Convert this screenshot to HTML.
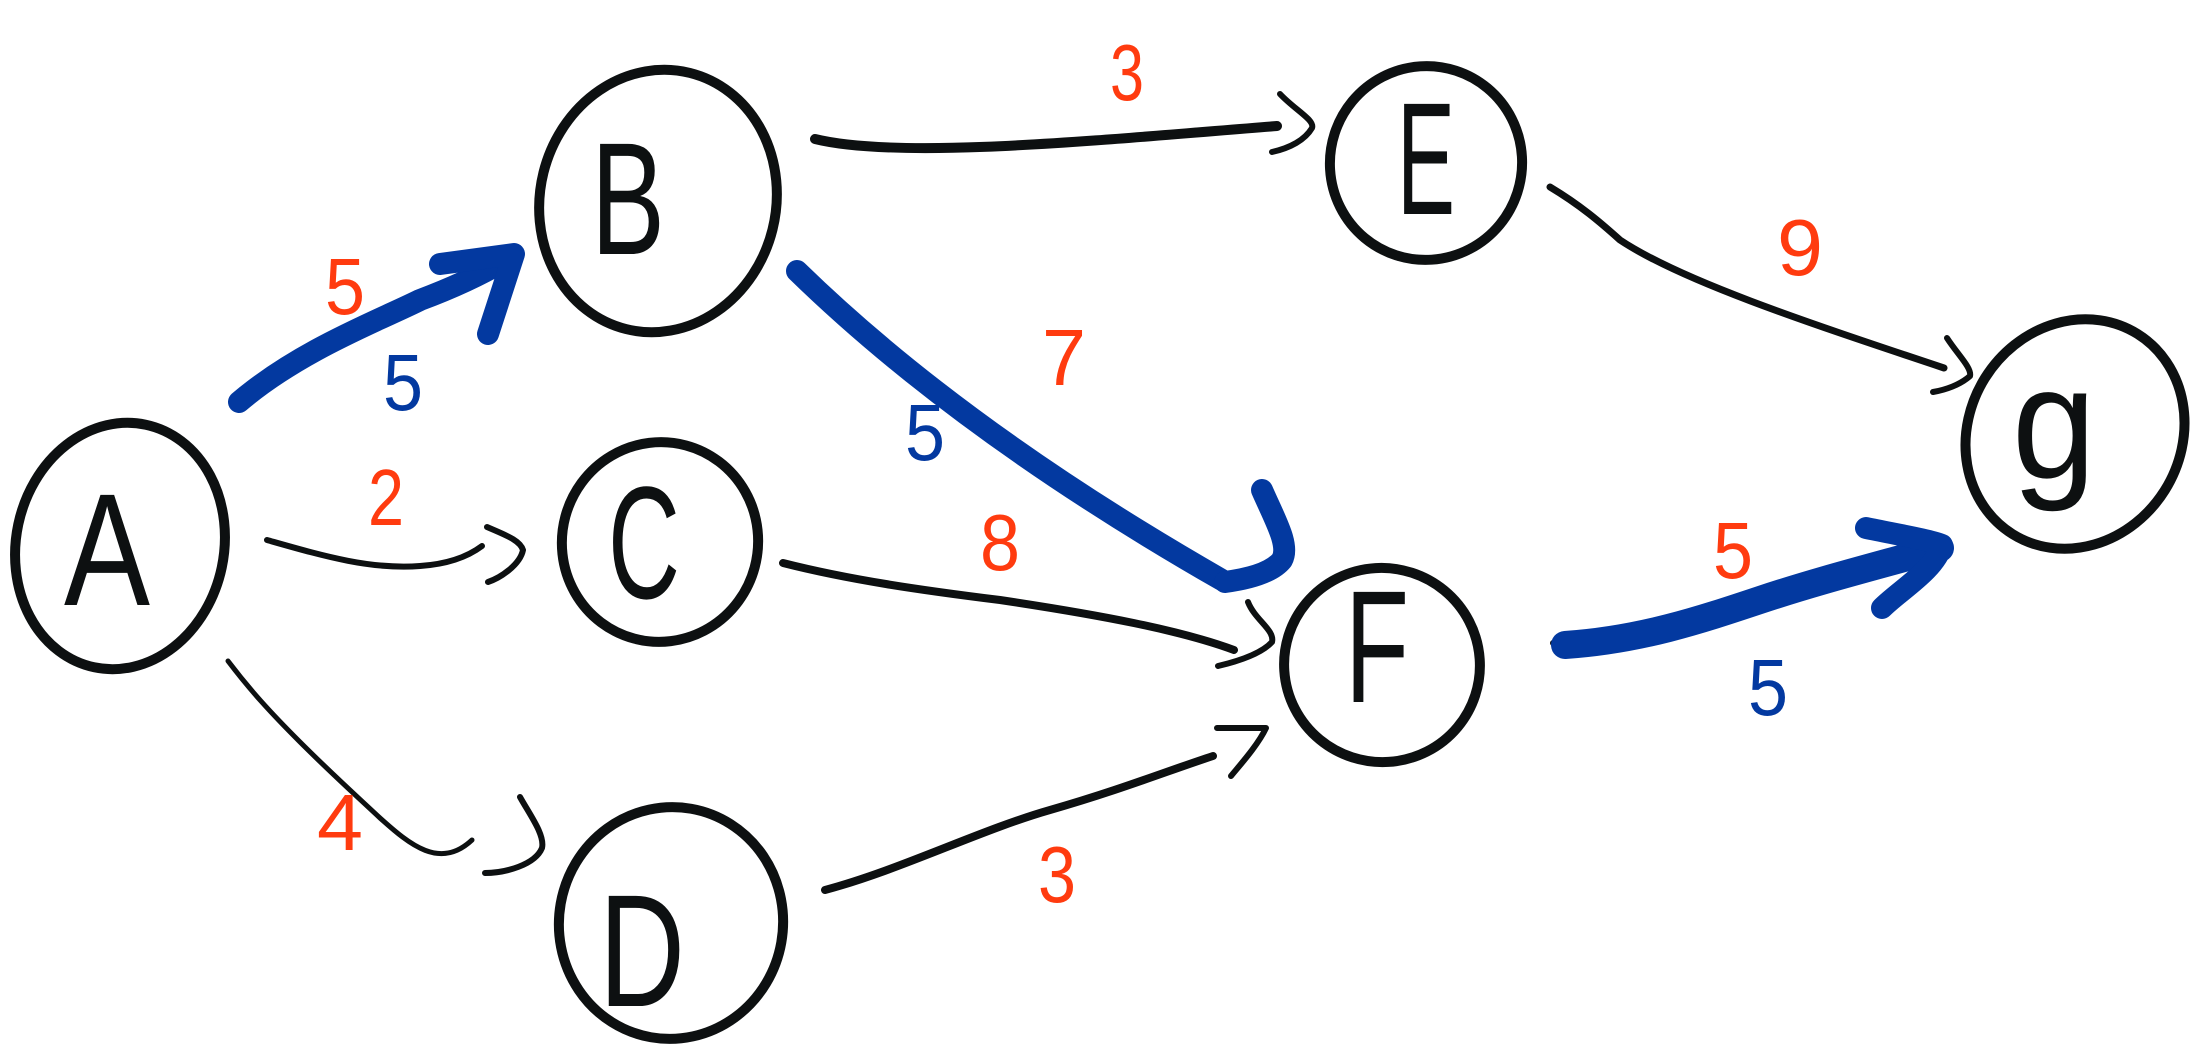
<!DOCTYPE html>
<html><head><meta charset="utf-8"><style>
html,body{margin:0;padding:0;background:#fff;}
svg{display:block}
.n{fill:none;stroke:#0d1011;stroke-width:10;stroke-linecap:round}
.e{fill:none;stroke:#0d1011;stroke-width:6;stroke-linecap:round;stroke-linejoin:round}
.b{fill:none;stroke:#0339a0;stroke-width:22;stroke-linecap:round;stroke-linejoin:round}
.l{font-family:"Liberation Sans",sans-serif;font-size:160px;fill:#0d1011;text-anchor:middle}
.r{font-family:"Liberation Sans",sans-serif;font-size:80px;fill:#ff3b0f;text-anchor:middle}
.bl{font-family:"Liberation Sans",sans-serif;font-size:80px;fill:#0339a0;text-anchor:middle}
</style></head><body>
<svg width="2202" height="1050" viewBox="0 0 2202 1050">
<ellipse class="n" cx="120" cy="546" rx="104" ry="124" transform="rotate(12 120 546)"/>
<ellipse class="n" cx="658" cy="201" rx="118" ry="132" transform="rotate(14 658 201)"/>
<ellipse class="n" cx="660" cy="542" rx="98" ry="100" transform="rotate(15 660 542)"/>
<ellipse class="n" cx="671" cy="923" rx="112" ry="116" transform="rotate(10 671 923)"/>
<ellipse class="n" cx="1426" cy="163" rx="96" ry="97" transform="rotate(18 1426 163)"/>
<ellipse class="n" cx="1382" cy="665" rx="98" ry="97" transform="rotate(18 1382 665)"/>
<ellipse class="n" cx="2075" cy="434" rx="106" ry="118" transform="rotate(32 2075 434)"/>
<text class="l" x="107" y="605" textLength="86" lengthAdjust="spacingAndGlyphs">A</text>
<text class="l" x="628" y="254" textLength="74" lengthAdjust="spacingAndGlyphs">B</text>
<text class="l" x="644" y="598" textLength="72" lengthAdjust="spacingAndGlyphs">C</text>
<text class="l" x="642" y="1006" textLength="86" lengthAdjust="spacingAndGlyphs">D</text>
<text class="l" x="1426" y="214" textLength="58" lengthAdjust="spacingAndGlyphs">E</text>
<text class="l" x="1377" y="702" textLength="64" lengthAdjust="spacingAndGlyphs">F</text>
<text class="l" x="2054" y="478" textLength="84" lengthAdjust="spacingAndGlyphs">g</text>
<path class="b" d="M239 402 C300 350 380 320 420 300 C460 285 490 270 512 256"/>
<path class="b" d="M440 264 L514 254 L488 334"/>
<path class="e" d="M267 540 C320 555 370 570 420 566 C450 564 470 555 482 546"/>
<path class="e" d="M487 527 C505 535 520 540 523 550 C520 565 500 578 488 582"/>
<path class="e" d="M228 661 C250 690 270 712 300 742 C330 772 350 790 380 818 C410 845 440 870 472 840" style="stroke-width:5"/>
<path class="e" d="M520 797 C530 815 545 835 542 848 C535 865 505 873 485 873"/>
<path class="e" d="M815 139 C900 160 1100 140 1277 126" style="stroke-width:10"/>
<path class="e" d="M1280 94 C1295 110 1315 120 1312 128 C1305 140 1290 148 1272 152"/>
<path class="b" d="M797 271 Q960 430 1222 580"/>
<path class="b" d="M1262 490 C1275 520 1290 545 1282 560 C1270 575 1240 580 1225 582"/>
<path class="e" d="M783 563 C850 580 920 590 1000 600 C1100 615 1180 630 1234 650" style="stroke-width:8"/>
<path class="e" d="M1248 602 C1255 620 1275 630 1272 642 C1260 655 1235 662 1218 666"/>
<path class="e" d="M825 890 C900 870 980 830 1050 810 C1120 790 1170 770 1213 756" style="stroke-width:8"/>
<path class="e" d="M1217 728 L1266 728 C1258 745 1240 765 1231 776"/>
<path class="e" d="M1550 187 C1580 205 1600 222 1620 240 C1680 280 1800 320 1944 368" style="stroke-width:7"/>
<path class="e" d="M1947 338 C1958 355 1972 368 1970 376 C1960 385 1945 390 1933 392"/>
<path class="e" d="M1553 643 L1565 640"/>
<path class="b" d="M1565 645 C1640 640 1700 620 1760 600 C1820 580 1880 565 1940 548" style="stroke-width:28"/>
<path class="b" d="M1866 528 C1900 535 1930 540 1942 545 C1935 570 1900 590 1882 608"/>
<text class="r" x="345" y="314" textLength="40" lengthAdjust="spacingAndGlyphs">5</text>
<text class="bl" x="403" y="410" textLength="40" lengthAdjust="spacingAndGlyphs">5</text>
<text class="r" x="386" y="525" textLength="36" lengthAdjust="spacingAndGlyphs">2</text>
<text class="r" x="340" y="850" textLength="46" lengthAdjust="spacingAndGlyphs">4</text>
<text class="r" x="1127" y="100" textLength="34" lengthAdjust="spacingAndGlyphs">3</text>
<text class="r" x="1064" y="385" textLength="44" lengthAdjust="spacingAndGlyphs">7</text>
<text class="bl" x="925" y="460" textLength="40" lengthAdjust="spacingAndGlyphs">5</text>
<text class="r" x="1000" y="570" textLength="40" lengthAdjust="spacingAndGlyphs">8</text>
<text class="r" x="1057" y="902" textLength="38" lengthAdjust="spacingAndGlyphs">3</text>
<text class="r" x="1800" y="275" textLength="46" lengthAdjust="spacingAndGlyphs">9</text>
<text class="r" x="1733" y="578" textLength="40" lengthAdjust="spacingAndGlyphs">5</text>
<text class="bl" x="1768" y="715" textLength="40" lengthAdjust="spacingAndGlyphs">5</text>
</svg>
</body></html>
